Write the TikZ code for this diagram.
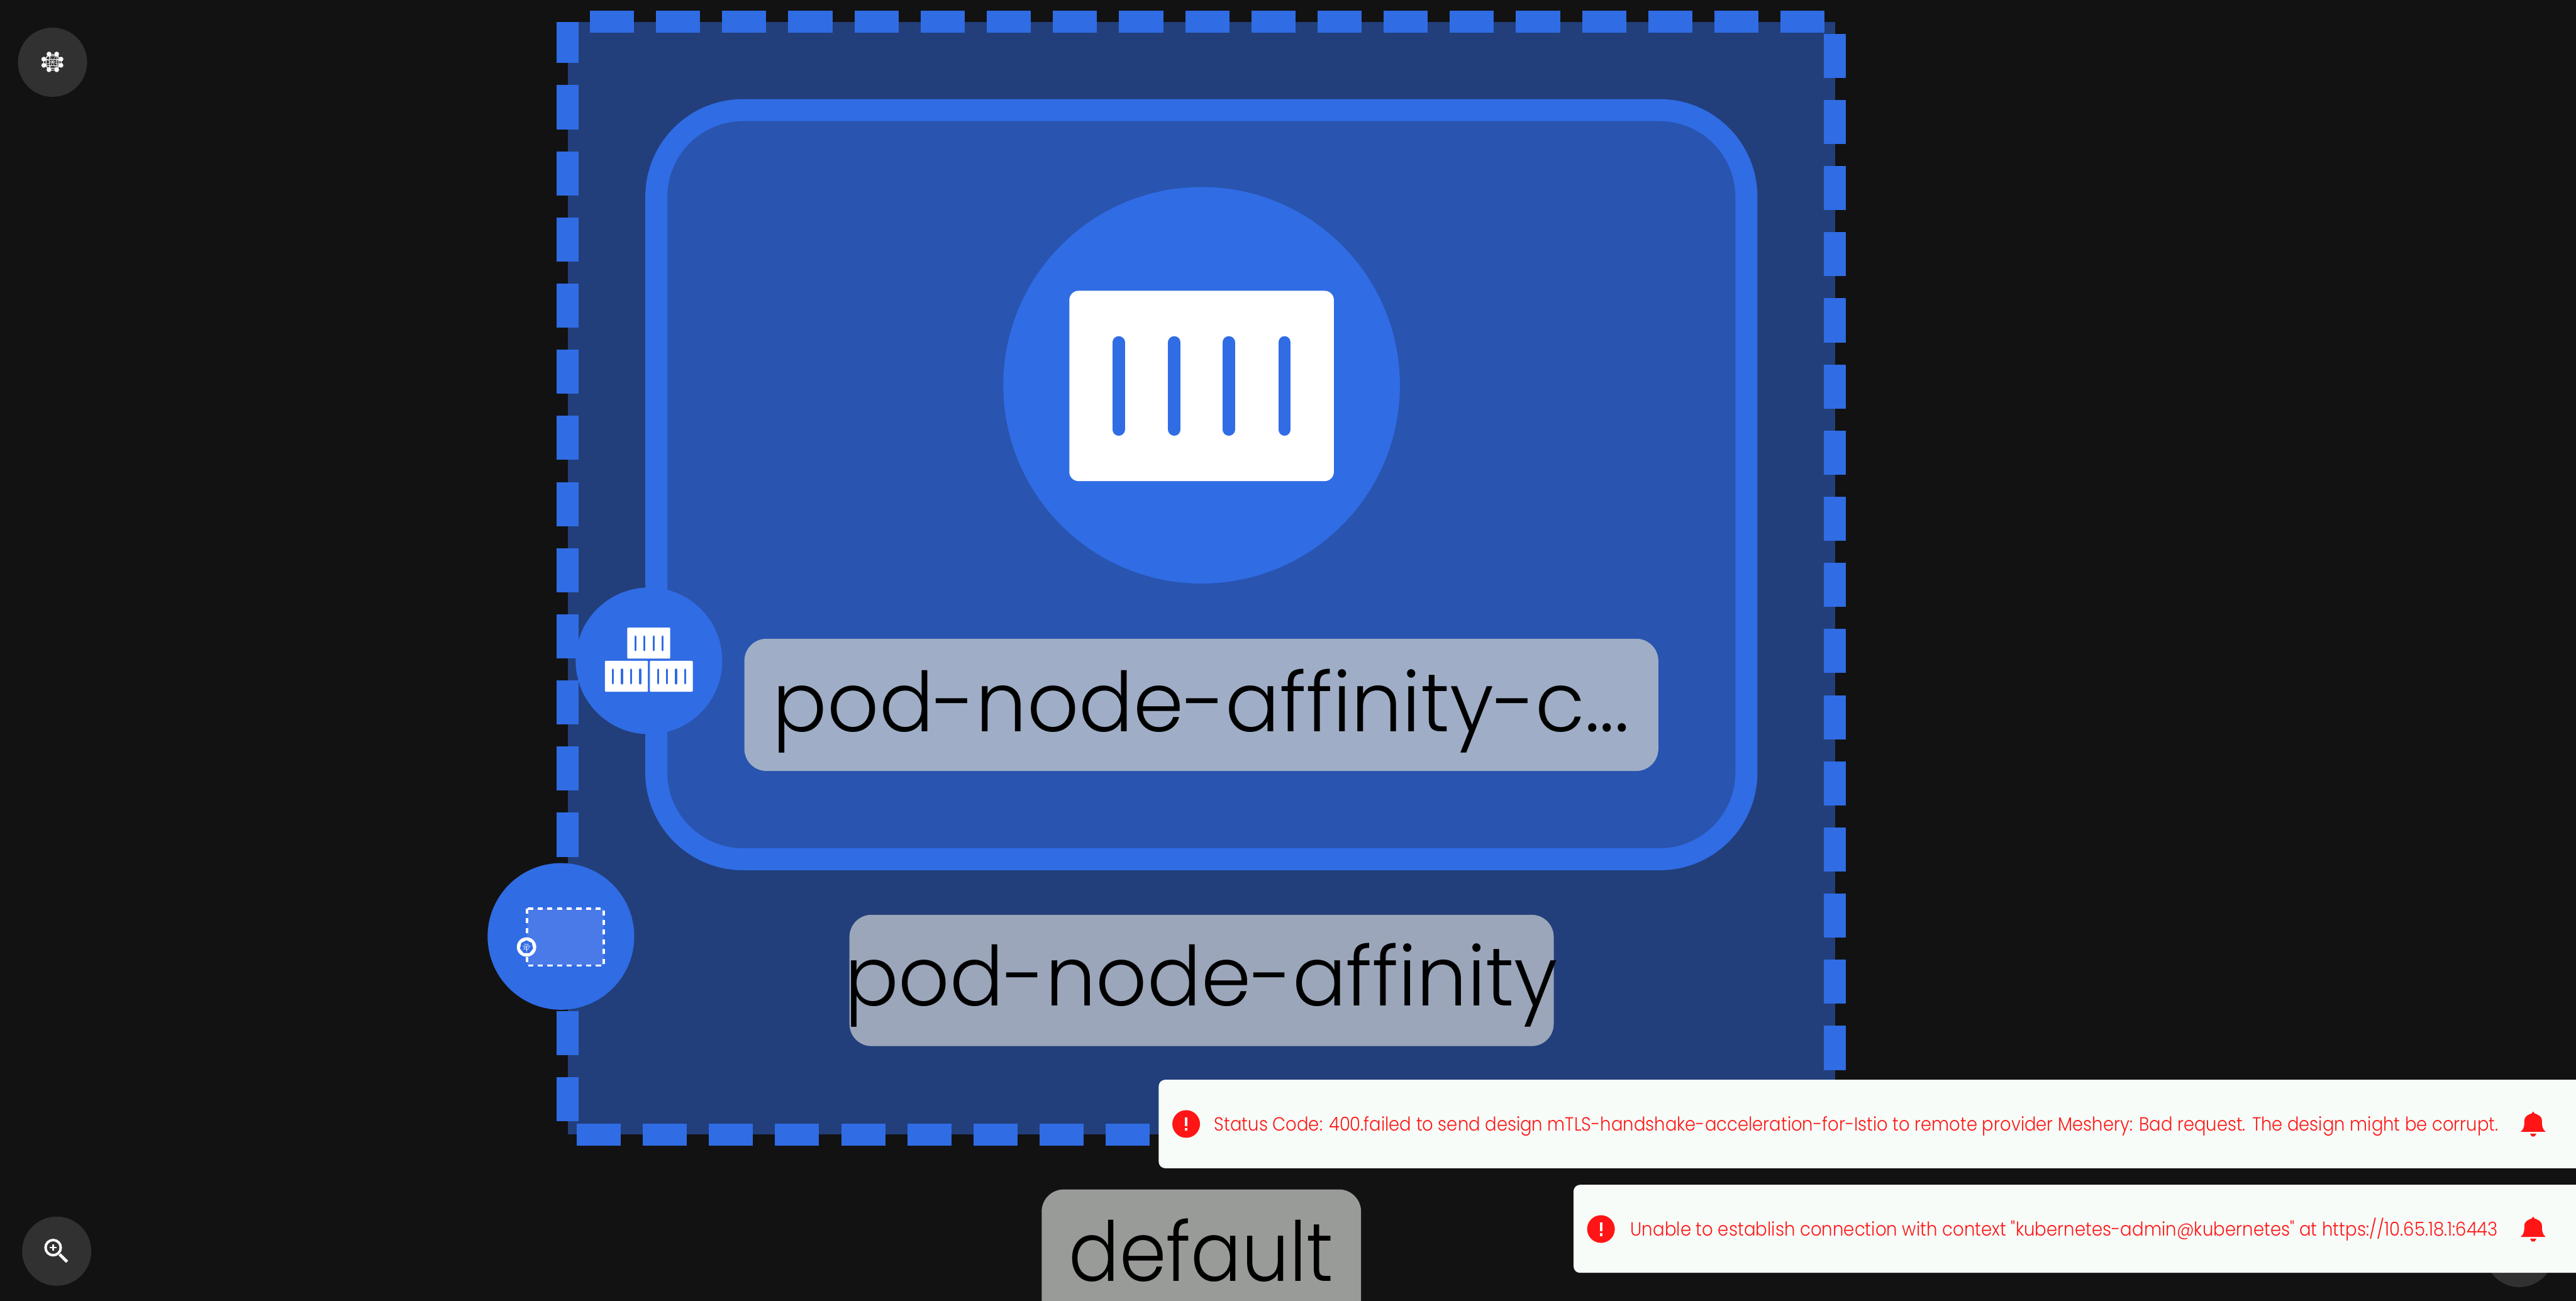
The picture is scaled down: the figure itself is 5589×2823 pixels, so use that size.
\documentclass[tikz,border=0pt]{standalone}
\usepackage{fontspec}
\usepackage{graphicx}
\usetikzlibrary{shapes.geometric}
\newfontfamily\thinfont{Poppins Light}
\definecolor{canvas}{HTML}{121212}
\definecolor{nsfill}{HTML}{223F7B}
\definecolor{podfill}{HTML}{2954AF}
\definecolor{meshblue}{HTML}{306CE4}
\definecolor{lightblue}{HTML}{4A7AE8}
\definecolor{podlabel}{HTML}{9FAEC6}
\definecolor{nslabel}{HTML}{9BA6BA}
\definecolor{deflabel}{HTML}{999B98}
\definecolor{toast}{HTML}{F7FCF8}
\definecolor{alert}{HTML}{FF1515}
\definecolor{toolbtn}{HTML}{313131}
\definecolor{toolicon}{HTML}{F7FAF8}
\tikzset{
  iconcircle/.style={circle, fill=meshblue, minimum size=3.18cm, inner sep=0pt},
  toolcircle/.style={circle, fill=toolbtn, minimum size=1.5cm, inner sep=0pt},
  biglabel/.style={anchor=base, inner sep=0pt, text=black, font=\thinfont\fontsize{51}{60}\selectfont},
  toasttext/.style={anchor=base west, inner sep=0pt, text=alert, font=\thinfont\fontsize{11.8}{14}\selectfont},
  alertdot/.style={circle, fill=alert, minimum size=0.6cm, inner sep=0pt},
}
\begin{document}
\begin{tikzpicture}[x=0.01cm, y=-0.01cm]
\useasboundingbox (0,0) rectangle (5589,2823);
\clip (0,0) rectangle (5589,2823);
\fill[canvas] (0,0) rectangle (5589,2823);
% side buttons
\node[toolcircle] (layoutbtn) at (114,135) {};
\node[toolcircle] (zoombtn) at (123,2715) {};
\node[toolcircle] (hiddenbtn) at (5466,2718) {};
\foreach \x/\y in {106.3/117.3, 123/117.3, 95/128.3, 132.3/128.3, 95/141.7, 132.3/141.7, 106.3/151.3, 123/151.3} {
  \fill[toolicon] (\x,\y) circle (5.2);
  \draw[toolicon!80, line width=0.25pt] (\x,\y) -- (114,134.5);
  \draw[toolicon!80, line width=0.25pt] (\x,\y) -- (228-\x,\y);
  \draw[toolicon!80, line width=0.25pt] (\x,\y) -- (\x,269-\y);
}
\draw[toolicon!80, line width=0.5pt, rounded corners=0.06cm] (100,121) rectangle (128,148);
\draw[toolicon, line width=0.055cm] (115.3,2707.3) circle (16.5);
\draw[toolicon, line width=0.033cm] (108,2707.3) -- (122.6,2707.3);
\draw[toolicon, line width=0.033cm] (115.3,2700) -- (115.3,2714.6);
\draw[toolicon, line width=0.065cm] (129.3,2722) -- (145.7,2738);
% namespace box
\fill[nsfill] (1232,47.7) rectangle (3981,2462);
\draw[meshblue, line width=0.478cm, dash pattern=on 0.9562cm off 0.4781cm, dash phase=0.9562cm]
  (1232,47.7) -- (3981,47.7) -- (3981,2462) -- (1232,2462) -- cycle;
% pod box
\draw[draw=meshblue, fill=podfill, line width=0.478cm, rounded corners=1.88cm] (1424,239) rectangle (3789,1864.5);
\node[circle, fill=meshblue, minimum size=8.6cm, inner sep=0pt] (podcircle) at (2607,836) {};
\fill[white, rounded corners=0.2cm] (2320,631) rectangle (2894,1044);
\foreach \x in {2427,2548,2666,2787} {
  \draw[meshblue, line width=0.27cm, line cap=round] (\x,743) -- (\x,932);
}
% labels
\fill[podlabel, rounded corners=0.48cm] (1615,1386) rectangle (3598,1673);
\node[biglabel] (podname) at (2606,1587) {\resizebox{18.57cm}{\height}{pod-node-affinity-c...}};
\fill[nslabel, rounded corners=0.48cm] (1843,1985) rectangle (3371,2270);
\node[biglabel] (nsname) at (2606,2182) {\resizebox{15.46cm}{\height}{pod-node-affinity}};
\fill[deflabel, rounded corners=0.48cm] (2260,2581) rectangle (2953,2900);
\node[biglabel] (defaultname) at (2606,2780) {\resizebox{5.74cm}{\height}{default}};
% icon on pod
\node[iconcircle] (podicon) at (1408,1434) {};
\foreach \x/\y in {1361/1362, 1312.5/1434, 1410/1434} {
  \fill[white, rounded corners=0.015cm] (\x,\y) rectangle (\x+93,\y+67);
  \foreach \d in {17.5,37,57,76.5} {
    \draw[meshblue, line width=0.045cm, line cap=round] (\x+\d,\y+19) -- (\x+\d,\y+49);
  }
}
% icon on namespace
\node[iconcircle] (nsicon) at (1217,2032) {};
\draw[draw=white, fill=lightblue, line width=0.05cm, dash pattern=on 0.11cm off 0.10cm] (1143,1971.6) rectangle (1310,2095);
\node[circle, fill=white, minimum size=0.42cm, inner sep=0pt] (k8sring) at (1142.4,2055) {};
\node[regular polygon, regular polygon sides=7, fill=meshblue, minimum size=0.29cm, inner sep=0pt] (k8shept) at (1142.4,2055) {};
\draw[white, line width=0.15pt] (1142.4,2055) circle (6);
\foreach \a in {0,51.4,...,308} {
  \draw[white, line width=0.15pt] (1142.4,2055) -- ++(\a+90:9.5);
}
% toasts
\fill[toast, rounded corners=0.14cm] (2514,2343) rectangle (5700,2535);
\fill[toast, rounded corners=0.14cm] (3414,2571) rectangle (5700,2762);
\node[alertdot] (alertone) at (2573.5,2439) {};
\node[alertdot] (alerttwo) at (3473.5,2667) {};
\foreach \x/\y in {2573.5/2439, 3473.5/2667} {
  \fill[white] (\x-2.7,\y-14.7) rectangle (\x+2.7,\y+5);
  \fill[white] (\x-2.7,\y+9.3) rectangle (\x+2.7,\y+15);
}
\node[toasttext] (toastone) at (2634,2454) {\resizebox{27.84cm}{\height}{Status Code: 400.failed to send design mTLS-handshake-acceleration-for-Istio to remote provider Meshery: Bad request. The design might be corrupt.}};
\node[toasttext] (toasttwo) at (3537,2682) {\resizebox{18.81cm}{\height}{Unable to establish connection with context "kubernetes-admin@kubernetes" at https://10.65.18.1:6443}};
\foreach \y in {2412,2640} {
  \begin{scope}[shift={(5496,\y)}]
    \fill[alert] (-27,44) .. controls (-19,38) and (-19,28) .. (-19,20)
      .. controls (-19,10) and (-11,7) .. (-3,4) -- (0,0) -- (3,4)
      .. controls (11,7) and (19,10) .. (19,20)
      .. controls (19,28) and (19,38) .. (27,44) -- cycle;
    \fill[alert] (-7,48) -- (7,48) -- (3,54) -- (-3,54) -- cycle;
  \end{scope}
}
\end{tikzpicture}
\end{document}
